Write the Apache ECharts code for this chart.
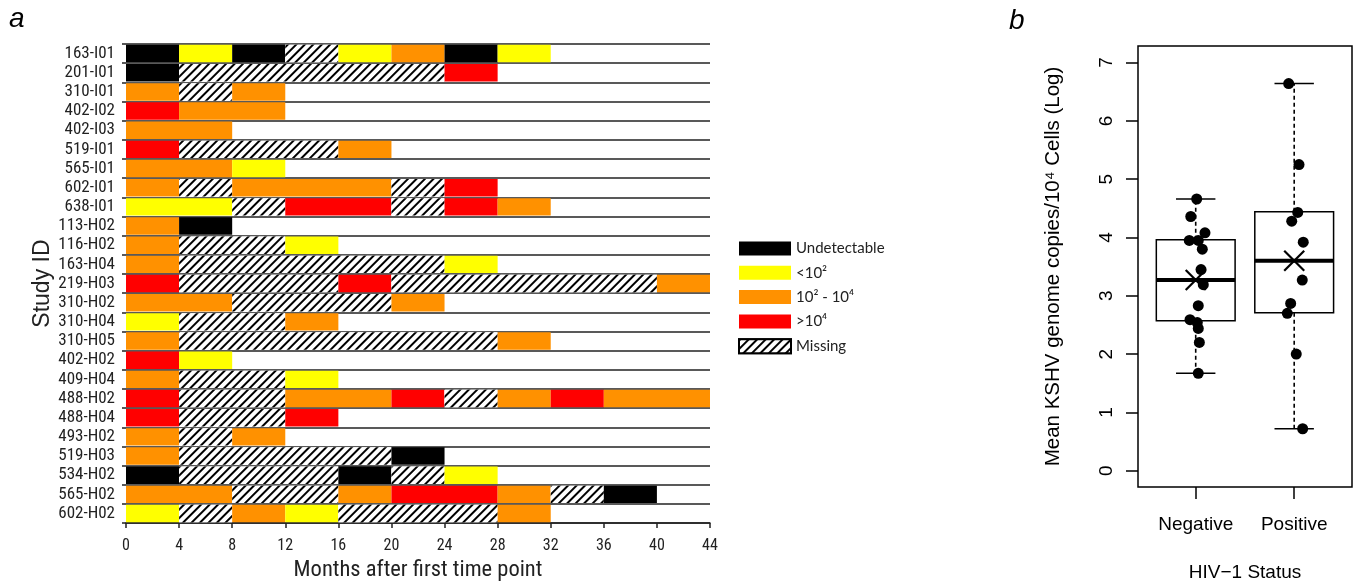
<!DOCTYPE html>
<html><head><meta charset="utf-8">
<script src="https://cdn.jsdelivr.net/npm/echarts@6/dist/echarts.min.js"></script>
<style>html,body{margin:0;padding:0;background:#fff}#c{width:1355px;height:587px}</style>
</head><body><div id="c"></div>
<script>
// ---------- Panel a data ----------
const studyIds = ['163-I01','201-I01','310-I01','402-I02','402-I03','519-I01','565-I01','602-I01','638-I01',
  '113-H02','116-H02','163-H04','219-H03','310-H02','310-H04','310-H05','402-H02','409-H04','488-H02',
  '488-H04','493-H02','519-H03','534-H02','565-H02','602-H02'];
// one code per 4-month interval: U undetectable, L <10^2, I 10^2-10^4, H >10^4, M missing
const statusRows = [
  ['U','L','U','M','L','I','U','L'],
  ['U','M','M','M','M','M','H'],
  ['I','M','I'],
  ['H','I','I'],
  ['I','I'],
  ['H','M','M','M','I'],
  ['I','I','L'],
  ['I','M','I','I','I','M','H'],
  ['L','L','M','H','H','M','H','I'],
  ['I','U'],
  ['I','M','M','L'],
  ['I','M','M','M','M','M','L'],
  ['H','M','M','M','H','M','M','M','M','M','I'],
  ['I','I','M','M','M','I'],
  ['L','M','M','I'],
  ['I','M','M','M','M','M','M','I'],
  ['H','L'],
  ['I','M','M','L'],
  ['H','M','M','I','I','H','M','I','H','I','I'],
  ['H','M','M','H'],
  ['I','M','I'],
  ['I','M','M','M','M','U'],
  ['U','M','M','M','U','M','L'],
  ['I','I','M','M','I','H','H','I','M','U'],
  ['L','M','I','L','M','M','M','I']
];
const intervalMonths = 4;
const statusCodes = ['U','L','I','H','M'];
const statusLabels = ['Undetectable','<10\u00B2','10\u00B2 - 10\u2074','>10\u2074','Missing'];
const statusColors = ['#000000','#FFFF00','#FF9100','#FF0000','#FFFFFF'];

// ---------- Panel b data ----------
const groups = ['Negative','Positive'];
const boxStats = [[1.67,2.57,3.27,3.96,4.66],[0.72,2.71,3.60,4.44,6.64]]; // min,q1,median,q3,max
const negValues = [4.66,4.36,4.08,3.95,3.95,3.80,3.45,3.19,2.83,2.59,2.54,2.44,2.20,1.67];
const negJitter = [1.01,0.95,1.094,0.935,1.026,1.067,1.054,1.077,1.026,0.942,1.016,1.026,1.037,1.026];
const posValues = [6.64,5.25,4.43,4.28,3.92,3.27,2.87,2.70,2.00,0.72];
const posJitter = [1.944,2.049,2.036,1.975,2.092,2.082,1.964,1.93,2.021,2.086];
const groupMeans = [3.27,3.60];
const yTicksB = [0,1,2,3,4,5,6,7];

const hatch = {symbol:'rect', symbolSize:1, dashArrayX:[1,0], dashArrayY:[1.4,3.4], rotation:-Math.PI/4, color:'#000', backgroundColor:'#fff'};
function styleFor(code){
  const i = statusCodes.indexOf(code);
  const s = {color: statusColors[i]};
  if (code === 'M') s.decal = hatch;
  return s;
}
const narrow = "'Liberation Sans Narrow','Arial Narrow','Roboto Condensed',sans-serif";
const arial = "'Liberation Sans',Arial,sans-serif";

// merge consecutive identical intervals into runs (so same-colour cells join seamlessly)
const runs = statusRows.map(r => {
  const out = [];
  r.forEach(c => {
    if (out.length && out[out.length-1].code === c) out[out.length-1].n++;
    else out.push({code:c, n:1});
  });
  return out;
});
const nRuns = Math.max(...runs.map(r=>r.length));
const series = [];
for (let k=0;k<nRuns;k++){
  series.push({
    type:'bar', stack:'t', xAxisIndex:0, yAxisIndex:0, barCategoryGap:'9%',
    silent:true,
    data: runs.map(r => r[k] ? {value:r[k].n*intervalMonths, itemStyle:styleFor(r[k].code)} : '-')
  });
}
statusCodes.forEach((c,i)=>{
  const it = {color: statusColors[i]};
  if (c==='M'){ it.decal = hatch; it.borderColor='#000'; it.borderWidth=1; }
  series.push({type:'bar', stack:'t', name:statusLabels[i], xAxisIndex:0, yAxisIndex:0, data:[], itemStyle:it});
});

// box plot
series.push({
  type:'custom', xAxisIndex:1, yAxisIndex:1, silent:true,
  data: boxStats.map((b,i)=>[i+1].concat(b)),
  renderItem: function(params, api){
    const x = api.value(0);
    const mn = api.coord([x, api.value(1)]), q1 = api.coord([x, api.value(2)]),
          md = api.coord([x, api.value(3)]), q3 = api.coord([x, api.value(4)]),
          mx = api.coord([x, api.value(5)]);
    const L = api.coord([x-0.4, 0])[0], R = api.coord([x+0.4, 0])[0];
    const cl = api.coord([x-0.2, 0])[0], cr = api.coord([x+0.2, 0])[0];
    const cx = mn[0];
    const st = {stroke:'#000', lineWidth:1.5, fill:null};
    const dash = {stroke:'#000', lineWidth:1.6, lineDash:[4,3]};
    return {type:'group', children:[
      {type:'line', shape:{x1:cx,y1:q3[1],x2:cx,y2:mx[1]}, style:dash},
      {type:'line', shape:{x1:cx,y1:q1[1],x2:cx,y2:mn[1]}, style:dash},
      {type:'line', shape:{x1:cl,y1:mx[1],x2:cr,y2:mx[1]}, style:st},
      {type:'line', shape:{x1:cl,y1:mn[1],x2:cr,y2:mn[1]}, style:st},
      {type:'rect', shape:{x:L,y:q3[1],width:R-L,height:q1[1]-q3[1]}, style:{stroke:'#000',lineWidth:1.5,fill:'#fff'}},
      {type:'line', shape:{x1:L,y1:md[1],x2:R,y2:md[1]}, style:{stroke:'#000',lineWidth:4}}
    ]};
  }
});
series.push({
  type:'scatter', xAxisIndex:1, yAxisIndex:1, symbolSize:11, silent:true,
  itemStyle:{color:'#000', opacity:1},
  data: negValues.map((v,i)=>[negJitter[i],v]).concat(posValues.map((v,i)=>[posJitter[i],v]))
});
series.push({
  type:'custom', xAxisIndex:1, yAxisIndex:1, silent:true,
  data: groupMeans.map((m,i)=>[i+1,m]),
  renderItem: function(params, api){
    const p = api.coord([api.value(0), api.value(1)]);
    const d = 10, s = {stroke:'#000', lineWidth:2.2};
    return {type:'group', children:[
      {type:'line', shape:{x1:p[0]-d,y1:p[1]-d,x2:p[0]+d,y2:p[1]+d}, style:s},
      {type:'line', shape:{x1:p[0]-d,y1:p[1]+d,x2:p[0]+d,y2:p[1]-d}, style:s}
    ]};
  }
});

const chart = echarts.init(document.getElementById('c'), null, {renderer:'canvas'});
chart.setOption({
  animation:false,
  backgroundColor:'#fff',
  graphic:[
    {type:'text', left:9, top:5, style:{text:'a', font:'italic 28px '+arial, fill:'#000'}},
    {type:'text', left:1009, top:7, style:{text:'b', font:'italic 28px '+arial, fill:'#000'}}
  ],
  legend:{
    orient:'vertical', left:733, top:236, itemWidth:52, itemHeight:14, itemGap:9.3,
    selectedMode:false, icon:'rect',
    data: statusLabels,
    textStyle:{fontFamily:"Lato,'Open Sans',sans-serif", fontSize:15, color:'#222', lineHeight:14}
  },
  grid:[
    {left:126, right:645, top:44, bottom:60},
    {left:1138, right:3, top:46, bottom:99, show:true, borderColor:'#000', borderWidth:1.5}
  ],
  xAxis:[
    {type:'value', gridIndex:0, min:0, max:44, interval:4,
     axisLine:{show:true, onZero:false, lineStyle:{color:'#222', width:1.5}},
     axisTick:{show:true, length:5, lineStyle:{color:'#222', width:1.5}},
     axisLabel:{fontFamily:narrow, fontSize:16, color:'#222', margin:15},
     splitLine:{show:false},
     name:'Months after first time point', nameLocation:'middle', nameGap:35,
     nameTextStyle:{fontFamily:narrow, fontSize:22.5, color:'#222'}},
    {type:'value', gridIndex:1, min:0.414, max:2.587,
     axisLine:{show:false, onZero:false},
     axisTick:{show:true, length:12, customValues:[1,2], lineStyle:{color:'#000', width:1.5}},
     axisLabel:{fontFamily:arial, fontSize:19, color:'#000', margin:28, customValues:[1,2],
       formatter: v => groups[Math.round(v)-1]},
     splitLine:{show:false},
     name:'HIV\u22121 Status', nameLocation:'middle', nameGap:76,
     nameTextStyle:{fontFamily:arial, fontSize:19, color:'#000'}}
  ],
  yAxis:[
    {type:'category', gridIndex:0, data:studyIds, inverse:true,
     axisLine:{show:false, onZero:false},
     axisTick:{show:true, interval:0, length:4, lineStyle:{color:'#222', width:1.5}},
     axisLabel:{fontFamily:narrow, fontSize:17, color:'#222', margin:11, interval:0},
     splitLine:{show:true, interval:0, lineStyle:{color:'#222', width:1.5}},
     name:'Study ID', nameLocation:'middle', nameGap:70,
     nameTextStyle:{fontFamily:arial, fontSize:23, color:'#222'}},
    {type:'value', gridIndex:1, min:-0.279, max:7.284,
     axisLine:{show:false, onZero:false},
     axisTick:{show:true, length:12, customValues:yTicksB, lineStyle:{color:'#000', width:1.5}},
     axisLabel:{fontFamily:arial, fontSize:19, color:'#000', margin:22, rotate:90, customValues:yTicksB},
     splitLine:{show:false},
     name:'Mean KSHV genome copies/10\u2074 Cells (Log)', nameLocation:'middle', nameGap:74,
     nameTextStyle:{fontFamily:arial, fontSize:20.5, color:'#000'}}
  ],
  series: series
});
</script></body></html>
